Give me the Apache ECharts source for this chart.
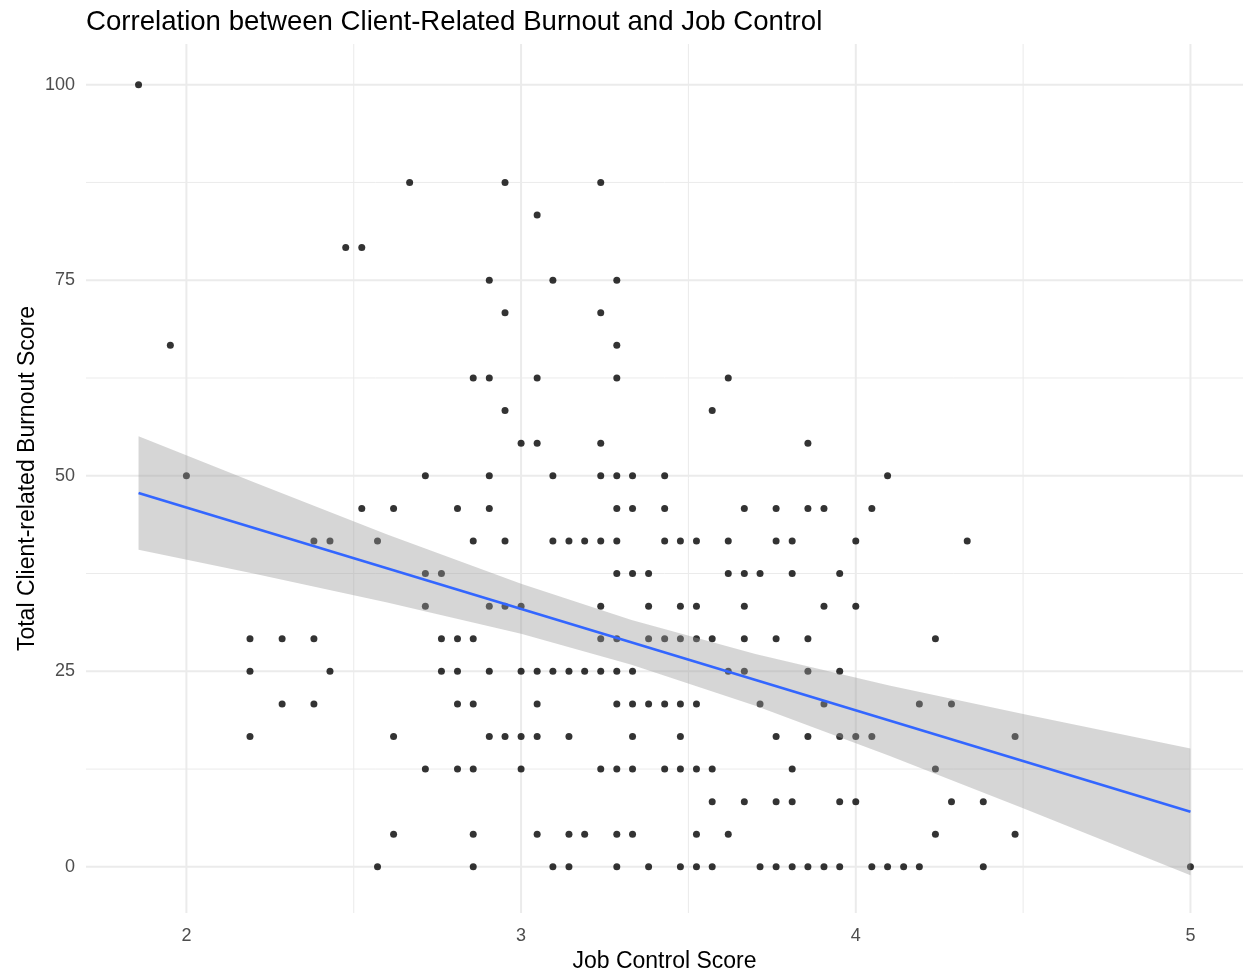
<!DOCTYPE html>
<html>
<head>
<meta charset="utf-8">
<script src="https://cdn.jsdelivr.net/npm/echarts@6/dist/echarts.min.js"></script>
<style>
  html, body { margin: 0; padding: 0; background: #ffffff; }
  #chart { width: 1243px; height: 972px; }
</style>
</head>
<body>
<div id="chart"></div>
<script>
// Burnout score levels (y) and the job control scores (x) observed at each level
const burnoutLevels = [0, 4.17, 8.33, 12.5, 16.67, 20.83, 25, 29.17, 33.33, 37.5, 41.67, 45.83, 50, 54.17, 58.33, 62.5, 66.67, 70.83, 75, 79.17, 83.33, 87.5, 100];

const jcAt0     = [2.571, 2.857, 3.095, 3.143, 3.286, 3.381, 3.476, 3.524, 3.571, 3.714, 3.762, 3.810, 3.857, 3.905, 3.952, 4.048, 4.095, 4.143, 4.190, 4.381, 5.0];
const jcAt4     = [2.619, 2.857, 3.048, 3.143, 3.190, 3.286, 3.333, 3.524, 3.619, 4.238, 4.476];
const jcAt8     = [3.571, 3.667, 3.762, 3.810, 3.952, 4.0, 4.286, 4.381];
const jcAt12    = [2.714, 2.810, 2.857, 3.0, 3.238, 3.286, 3.333, 3.429, 3.476, 3.524, 3.571, 3.810, 4.238];
const jcAt17    = [2.190, 2.619, 2.905, 2.952, 3.0, 3.048, 3.143, 3.333, 3.476, 3.762, 3.857, 3.952, 4.0, 4.048, 4.476];
const jcAt21    = [2.286, 2.381, 2.810, 2.857, 3.048, 3.286, 3.333, 3.381, 3.429, 3.476, 3.524, 3.714, 3.905, 4.190, 4.286];
const jcAt25    = [2.190, 2.429, 2.762, 2.810, 2.905, 3.0, 3.048, 3.095, 3.143, 3.190, 3.238, 3.286, 3.333, 3.619, 3.667, 3.857, 3.952];
const jcAt29    = [2.190, 2.286, 2.381, 2.762, 2.810, 2.857, 3.238, 3.286, 3.381, 3.429, 3.476, 3.524, 3.571, 3.667, 3.762, 3.857, 4.238];
const jcAt33    = [2.714, 2.905, 2.952, 3.0, 3.238, 3.381, 3.476, 3.524, 3.667, 3.905, 4.0];
const jcAt37    = [2.714, 2.762, 3.286, 3.333, 3.381, 3.619, 3.667, 3.714, 3.810, 3.952];
const jcAt42    = [2.381, 2.429, 2.571, 2.857, 2.952, 3.095, 3.143, 3.190, 3.238, 3.286, 3.429, 3.476, 3.524, 3.619, 3.762, 3.810, 4.0, 4.333];
const jcAt46    = [2.524, 2.619, 2.810, 2.905, 3.286, 3.333, 3.429, 3.667, 3.762, 3.857, 3.905, 4.048];
const jcAt50    = [2.0, 2.714, 2.905, 3.095, 3.238, 3.286, 3.333, 3.429, 4.095];
const jcAt54    = [3.0, 3.048, 3.238, 3.857];
const jcAt58    = [2.952, 3.571];
const jcAt62    = [2.857, 2.905, 3.048, 3.286, 3.619];
const jcAt67    = [1.952, 3.286];
const jcAt71    = [2.952, 3.238];
const jcAt75    = [2.905, 3.095, 3.286];
const jcAt79    = [2.476, 2.524];
const jcAt83    = [3.048];
const jcAt87    = [2.667, 2.952, 3.238];
const jcAt100   = [1.857];

const jobControlByLevel = [jcAt0, jcAt4, jcAt8, jcAt12, jcAt17, jcAt21, jcAt25, jcAt29, jcAt33, jcAt37,
  jcAt42, jcAt46, jcAt50, jcAt54, jcAt58, jcAt62, jcAt67, jcAt71, jcAt75, jcAt79, jcAt83, jcAt87, jcAt100];

// Linear trend line (lm fit) and its 95% confidence band
const fitX = [1.857, 5.0];
const fitY = [47.8, 7.04];
const bandX     = [1.857, 2.2,  2.6,  3.0,  3.33,  3.7,  4.1,  4.5,   5.0];
const bandUpper = [55.05, 49.2, 42.5, 36.2, 31.55, 27.2, 23.2, 19.55, 15.14];
const bandLower = [40.55, 37.5, 33.8, 29.8, 25.85, 20.6, 14.2, 7.5,  -1.06];

// Axis breaks
const xMajorTicks = [2, 3, 4, 5];
const xMinorTicks = [2.5, 3.5, 4.5];
const yMajorTicks = [0, 25, 50, 75, 100];
const yMinorTicks = [12.5, 37.5, 62.5, 87.5];

// Panel limits (data range padded)
const X_MIN = 1.7, X_MAX = 5.157;
const Y_MIN = -5.9, Y_MAX = 105.2;

// Build the point list
const points = [];
burnoutLevels.forEach((lvl, i) => {
  jobControlByLevel[i].forEach(x => points.push([x, lvl]));
});

const fitLine = fitX.map((x, i) => [x, fitY[i]]);
const upperPts = bandX.map((x, i) => [x, bandUpper[i]]);
const lowerPts = bandX.map((x, i) => [x, bandLower[i]]);

const FONT = '"Liberation Sans", Arial, Helvetica, sans-serif';
const GRID_COLOR = '#ebebeb';

const chart = echarts.init(document.getElementById('chart'), null, { renderer: 'canvas' });

chart.setOption({
  backgroundColor: '#ffffff',
  animation: false,
  title: {
    text: 'Correlation between Client-Related Burnout and Job Control',
    left: 81,
    top: 3,
    textStyle: { fontFamily: FONT, fontSize: 27.6, fontWeight: 'normal', color: '#000000' }
  },
  grid: { left: 86, right: 0, top: 44, bottom: 59, containLabel: false, outerBoundsMode: 'none' },
  xAxis: {
    type: 'value',
    min: X_MIN,
    max: X_MAX,
    name: 'Job Control Score',
    nameLocation: 'middle',
    nameGap: 34,
    nameTextStyle: { fontFamily: FONT, fontSize: 23, color: '#000000' },
    axisLine: { show: false },
    axisTick: { show: false },
    splitLine: { show: false },
    axisLabel: {
      customValues: xMajorTicks,
      margin: 14,
      fontFamily: FONT, fontSize: 18, color: '#4d4d4d'
    }
  },
  yAxis: {
    type: 'value',
    min: Y_MIN,
    max: Y_MAX,
    name: 'Total Client-related Burnout Score',
    nameLocation: 'middle',
    nameMoveOverlap: false,
    nameGap: 47,
    nameTextStyle: { fontFamily: FONT, fontSize: 23, color: '#000000' },
    axisLine: { show: false },
    axisTick: { show: false },
    splitLine: { show: false },
    axisLabel: {
      customValues: yMajorTicks,
      margin: 11,
      fontFamily: FONT, fontSize: 18, color: '#4d4d4d'
    }
  },
  series: [
    {
      // vertical grid lines
      type: 'custom',
      silent: true,
      z: 0,
      data: xMajorTicks.map(v => [v, 1]).concat(xMinorTicks.map(v => [v, 0])),
      renderItem: (params, api) => {
        const v = api.value(0), major = api.value(1) === 1;
        const a = api.coord([v, Y_MIN]), b = api.coord([v, Y_MAX]);
        return { type: 'line', shape: { x1: a[0], y1: a[1], x2: b[0], y2: b[1] },
          style: { stroke: GRID_COLOR, lineWidth: major ? 2 : 1 } };
      }
    },
    {
      // horizontal grid lines
      type: 'custom',
      silent: true,
      z: 0,
      data: yMajorTicks.map(v => [X_MIN, v, 1]).concat(yMinorTicks.map(v => [X_MIN, v, 0])),
      encode: { x: 0, y: 1 },
      renderItem: (params, api) => {
        const v = api.value(1), major = api.value(2) === 1;
        const a = api.coord([X_MIN, v]), b = api.coord([X_MAX, v]);
        return { type: 'line', shape: { x1: a[0], y1: a[1], x2: b[0], y2: b[1] },
          style: { stroke: GRID_COLOR, lineWidth: major ? 2 : 1 } };
      }
    },
    {
      type: 'scatter',
      z: 2,
      symbol: 'circle',
      symbolSize: 7,
      itemStyle: { color: '#000000' },
      data: points
    },
    {
      // confidence band around the trend line
      type: 'custom',
      silent: true,
      z: 3,
      data: [[bandX[0], bandUpper[0]]],
      renderItem: (params, api) => {
        const poly = upperPts.map(p => api.coord(p))
          .concat(lowerPts.slice().reverse().map(p => api.coord(p)));
        return { type: 'polygon', shape: { points: poly, smooth: 0 },
          style: { fill: 'rgba(153,153,153,0.4)', stroke: null } };
      }
    },
    {
      type: 'line',
      z: 4,
      showSymbol: false,
      symbol: 'none',
      lineStyle: { color: '#3366FF', width: 2.6 },
      data: fitLine
    }
  ]
});
</script>
</body>
</html>
